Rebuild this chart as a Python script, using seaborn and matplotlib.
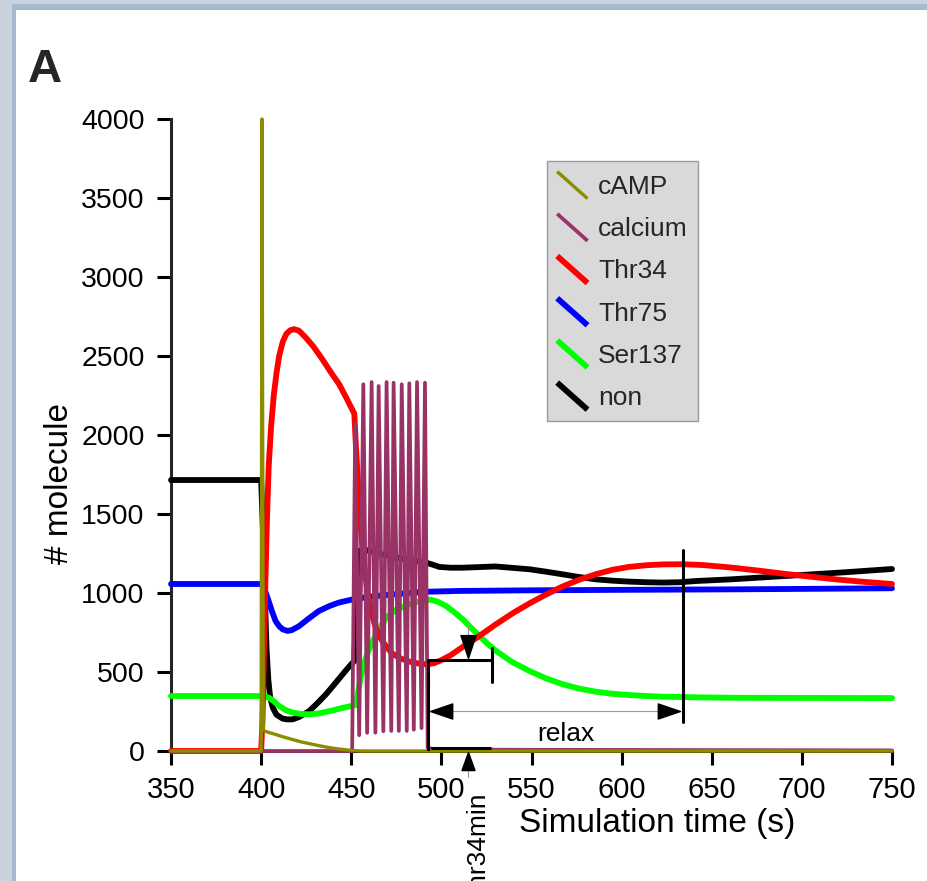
import matplotlib
matplotlib.use('Agg')
import matplotlib.pyplot as plt
import seaborn as sns
from matplotlib.lines import Line2D
from matplotlib.legend_handler import HandlerLine2D
from matplotlib.path import Path
from matplotlib.patches import Rectangle

# ===== Data =====
camp_t = [350, 400, 400.5, 401.2, 404, 408, 412, 417, 422, 427, 432, 436, 441, 445, 450, 455, 750]
camp_v = [0, 0, 4000, 130, 118, 105, 90, 74, 58, 46, 34, 25, 16, 10, 4, 0, 0]

calcium_t = [350, 450.5, 452.2, 454.4, 456.7, 458.8, 461.3, 463.4, 465.2, 467.8, 469.6, 472.2,
             473.5, 476.4, 478.0, 480.8, 482.2, 484.7, 486.5, 489.0, 490.9, 492.4, 495, 530, 750]
calcium_v = [0, 0, 2070, 100, 2321, 115, 2335, 116, 2310, 125, 2335, 127,
             2331, 127, 2321, 127, 2327, 135, 2335, 145, 2331, 20, 14, 8, 4]

thr34_t = [350, 400, 400.8, 401.5, 402.3, 403.2, 404.2, 405.5, 407, 408.5, 410, 412, 414, 416,
           418.3, 421, 424.8, 429, 434, 438.5, 443.3, 447.5, 451.7, 452.5, 453.5, 454.4, 455.5,
           457, 458.5, 460, 461.5, 463, 465, 467, 470, 473, 477, 481, 485, 489, 492.5, 496, 500,
           505, 512, 520, 530, 540, 549, 558, 567, 576, 586, 595, 604, 614, 623, 634, 645, 660,
           675, 690, 705, 720, 735, 750]
thr34_v = [0, 0, 200, 600, 1050, 1450, 1800, 2050, 2250, 2390, 2500, 2590, 2640, 2662,
           2670, 2660, 2616, 2560, 2479, 2400, 2321, 2230, 2135, 1950, 1750, 1580, 1380,
           1180, 1050, 940, 870, 800, 745, 700, 652, 615, 588, 570, 558, 551, 549, 556, 575,
           605, 660, 720, 800, 875, 935, 990, 1040, 1082, 1120, 1147, 1165, 1176, 1181, 1182, 1177, 1162,
           1143, 1122, 1103, 1085, 1070, 1057]

thr75_t = [350, 400, 401, 402.5, 404, 406, 408, 410, 412, 414.6, 417, 421, 426, 432, 438, 443,
           449, 454, 463, 473, 482, 491.5, 510, 550, 600, 660, 700, 750]
thr75_v = [1057, 1057, 1040, 1005, 955, 885, 823, 790, 770, 760, 765, 790, 835, 886, 918, 939,
           955, 966, 980, 991, 1000, 1008, 1013, 1017, 1020, 1023, 1026, 1030]

ser137_t = [350, 400, 402, 404.4, 407, 410, 413.5, 417.4, 422, 426.7, 433, 439.6, 446, 452.6,
            454, 456.3, 459, 461.9, 465.5, 469.3, 475, 482.2, 487, 491.5, 494, 498, 502.6, 507,
            511.9, 516, 521.1, 525.5, 530.4, 539, 548.9, 558, 567.4, 576, 585.9, 595, 604.4,
            614, 623, 640, 660, 700, 750]
ser137_v = [348, 348, 345, 337, 315, 285, 260, 243, 235, 232, 240, 257, 275, 291,
            390, 527, 620, 696, 775, 844, 895, 928, 945, 955, 958, 945, 918, 880,
            833, 785, 728, 680, 633, 565, 506, 460, 422, 396, 375, 362, 354,
            348, 344, 340, 337, 336, 335]

non_t = [350, 400, 401, 402, 403, 404, 405, 406.5, 408.5, 411.9, 414.5, 417.4, 421, 426.7, 431,
         436, 440.5, 445.2, 448.5, 451.7, 452.5, 453.3, 454.4, 457, 460, 467, 474.8, 483, 491.5,
         495, 498.9, 505, 511.7, 530, 549, 558, 567.4, 576, 586, 595, 604.4, 614, 623, 632,
         641.5, 660, 680, 700, 725, 750]
non_v = [1715, 1715, 1400, 1000, 650, 450, 340, 274, 230, 205, 200, 200, 215, 253, 300,
         359, 420, 485, 530, 570, 850, 1150, 1266, 1275, 1266, 1245, 1224, 1208, 1192,
         1180, 1165, 1160, 1160, 1168, 1150, 1135, 1118, 1102, 1086, 1078, 1072, 1068, 1066, 1068,
         1076, 1086, 1100, 1114, 1132, 1152]

series_names = ['cAMP', 'calcium', 'Thr34', 'Thr75', 'Ser137', 'non']
xtick_vals = [350, 400, 450, 500, 550, 600, 650, 700, 750]
ytick_vals = [0, 500, 1000, 1500, 2000, 2500, 3000, 3500, 4000]

# ===== Style =====
sns.set_theme(style='ticks')
plt.rcParams['font.family'] = ['Liberation Sans', 'DejaVu Sans']

fig = plt.figure(figsize=(9.28, 8.81), dpi=100, facecolor='#c8d2dc')
fig.patches.append(Rectangle((12 / 928, 0), 1, (881 - 4) / 881, transform=fig.transFigure,
                             facecolor='#a6b9cf', edgecolor='none', zorder=-2))
fig.patches.append(Rectangle((16 / 928, 0), 1, (881 - 10) / 881, transform=fig.transFigure,
                             facecolor='white', edgecolor='none', zorder=-1))

ax = fig.add_axes([171 / 928, (881 - 751) / 881, 721 / 928, 632 / 881])

# ===== Curves =====
styles = {
    'non': (non_t, non_v, 'black', 4.2),
    'Ser137': (ser137_t, ser137_v, '#00ff00', 4.2),
    'Thr75': (thr75_t, thr75_v, '#0000ff', 4.2),
    'Thr34': (thr34_t, thr34_v, '#ff0000', 4.2),
    'calcium': (calcium_t, calcium_v, '#993366', 2.7),
    'cAMP': (camp_t, camp_v, '#8c8c00', 2.4),
}
for name, (t, v, col, lw) in styles.items():
    sns.lineplot(x=t, y=v, ax=ax, color=col, linewidth=lw, label=name,
                 estimator=None, sort=False, zorder=3, clip_on=False)

# ===== Annotations =====
k_lw = 2.2
ax.plot([492.7, 492.7], [570, 0], color='black', lw=k_lw, zorder=4)
ax.plot([492.7, 527.9], [576, 576], color='black', lw=k_lw, zorder=4)
ax.plot([527.9, 527.9], [650, 439], color='black', lw=k_lw, zorder=4)
ax.plot([494.8, 527.0], [21, 21], color='black', lw=k_lw, zorder=4)
ax.plot([634.1, 634.1], [1272, 185], color='black', lw=k_lw, zorder=4)

gray = '#9a9a9a'
ax.plot([514.7, 514.7], [797, 600], color=gray, lw=0.8, zorder=4)
ax.plot([514.7, 514.7], [-120, -165], color=gray, lw=0.8, zorder=4, clip_on=False)
ax.plot([500, 625], [253, 253], color=gray, lw=0.8, zorder=4)

def tri(dx, dy, w):
    # triangle with its tip at the origin, body pointing along (dx, dy)
    px, py = -dy * w, dx * w
    return Path([(0, 0), (dx + px, dy + py), (dx - px, dy - py), (0, 0)],
                [Path.MOVETO, Path.LINETO, Path.LINETO, Path.CLOSEPOLY])

ax.plot(514.7, 587, marker=tri(0, 1, 0.33), markersize=33, color='black', lw=0, zorder=5)
ax.plot(514.7, -6, marker=tri(0, -1, 0.36), markersize=26, color='black', lw=0, zorder=5, clip_on=False)
ax.plot(493.6, 253, marker=tri(1, 0, 0.34), markersize=32, color='black', lw=0, zorder=5)
ax.plot(632.3, 253, marker=tri(-1, 0, 0.34), markersize=32, color='black', lw=0, zorder=5)

ax.text(569, 63, 'relax', ha='center', va='baseline', fontsize=19, color='black')
ax.text(520.5, -262, 'Thr34min', rotation=90, ha='center', va='top', fontsize=19,
        color='black', clip_on=False)

# ===== Axes =====
ax.set_xlim(350, 750)
ax.set_ylim(0, 4000)
ax.set_xticks(xtick_vals)
ax.set_yticks(ytick_vals)
sns.despine(ax=ax)
for s in ['left', 'bottom']:
    ax.spines[s].set_linewidth(2.2)
ax.tick_params(axis='both', width=2.2, length=10, color='black', labelcolor='black')
ax.tick_params(axis='x', labelsize=21, pad=8)
ax.tick_params(axis='y', labelsize=20.5, pad=9)

ax.set_xlabel('Simulation time (s)', fontsize=24, color='black')
ax.set_ylabel('# molecule', fontsize=24, color='black')
ax.xaxis.set_label_coords(0.674, -0.114)
ax.xaxis.label.set_va('center')
ax.yaxis.set_label_coords(-0.155, 0.4225)
ax.yaxis.label.set_va('center')

fig.text(45 / 928, 1 - 70 / 881, 'A', fontsize=34, fontweight='bold', ha='center', va='center')

# ===== Legend =====
class DiagonalHandler(HandlerLine2D):
    def create_artists(self, legend, orig_handle, xdescent, ydescent, width, height, fontsize, trans):
        line = Line2D([-xdescent, -xdescent + width], [-ydescent + height, -ydescent],
                      color=orig_handle.get_color(), lw=orig_handle.get_linewidth(),
                      solid_capstyle='butt', transform=trans)
        return [line]

handles, labels = ax.get_legend_handles_labels()
lookup = dict(zip(labels, handles))
leg = ax.legend([lookup[n] for n in series_names], series_names,
                loc='upper left', bbox_to_anchor=(0.521, 0.9335), borderaxespad=0,
                fontsize=19, handlelength=1.15, handleheight=1.2, handletextpad=0.4,
                labelspacing=0.56, borderpad=0.4, fancybox=False, framealpha=1,
                facecolor='#d9d9d9', edgecolor='#9a9a9a',
                handler_map={Line2D: DiagonalHandler()})
leg.get_frame().set_linewidth(1)

fig.savefig('out.png', dpi=100, facecolor=fig.get_facecolor())
